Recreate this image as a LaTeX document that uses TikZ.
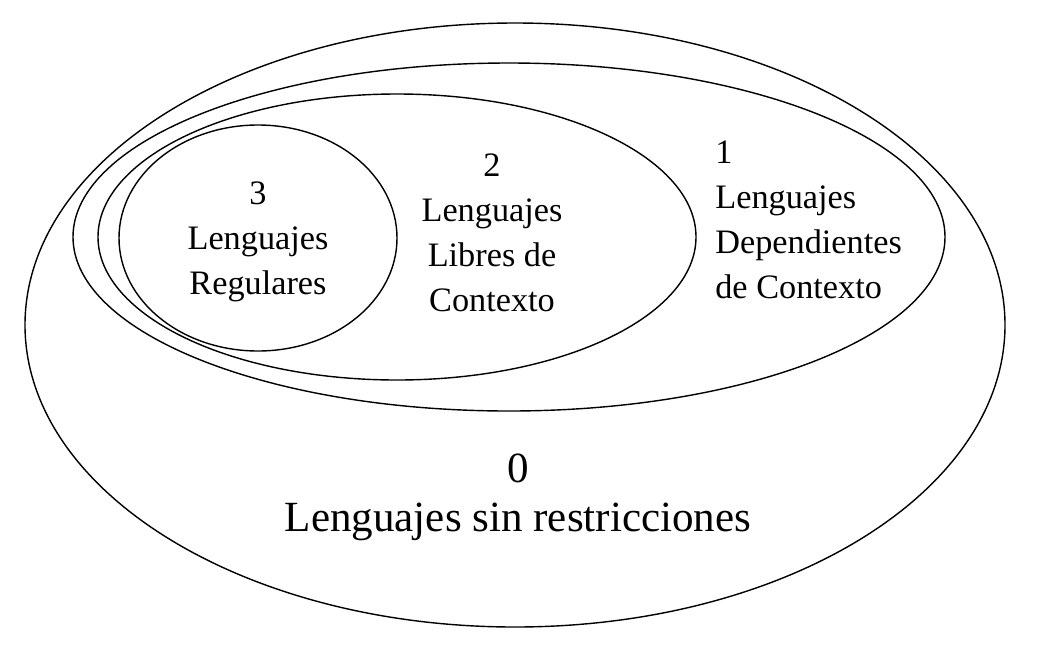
\documentclass[tikz,border=0pt]{standalone}
\usepackage{fontspec}
\setmainfont{Liberation Serif}
\begin{document}
\begin{tikzpicture}[x=0.2mm,y=-0.2mm]
\tikzset{conjunto/.style={draw, line width=0.8pt},
  etiqueta/.style={align=center, inner sep=0pt, font=\fontsize{19.5}{25.6}\selectfont}}
\useasboundingbox (0,0) rectangle (1048,650);
% jerarquia: un conjunto dentro de otro
\draw[conjunto] (515,325) ellipse [x radius=490, y radius=302];
\draw[conjunto] (509,237) ellipse [x radius=436, y radius=174];
\draw[conjunto] (397,237) ellipse [x radius=299, y radius=143];
\draw[conjunto] (258,238) ellipse [x radius=139, y radius=113];
\node[etiqueta] (L3) at (258,242) {3\\Lenguajes\\Regulares};
\node[etiqueta] (L2) at (492,233) {2\\Lenguajes\\Libres de\\Contexto};
\node[etiqueta, align=left, anchor=west] (L1) at (715,220) {1\\Lenguajes\\Dependientes\\de Contexto};
\node[etiqueta, font=\fontsize{24.5}{28}\selectfont] (L0) at (518,497) {0\\Lenguajes sin restricciones};
\end{tikzpicture}
\end{document}
